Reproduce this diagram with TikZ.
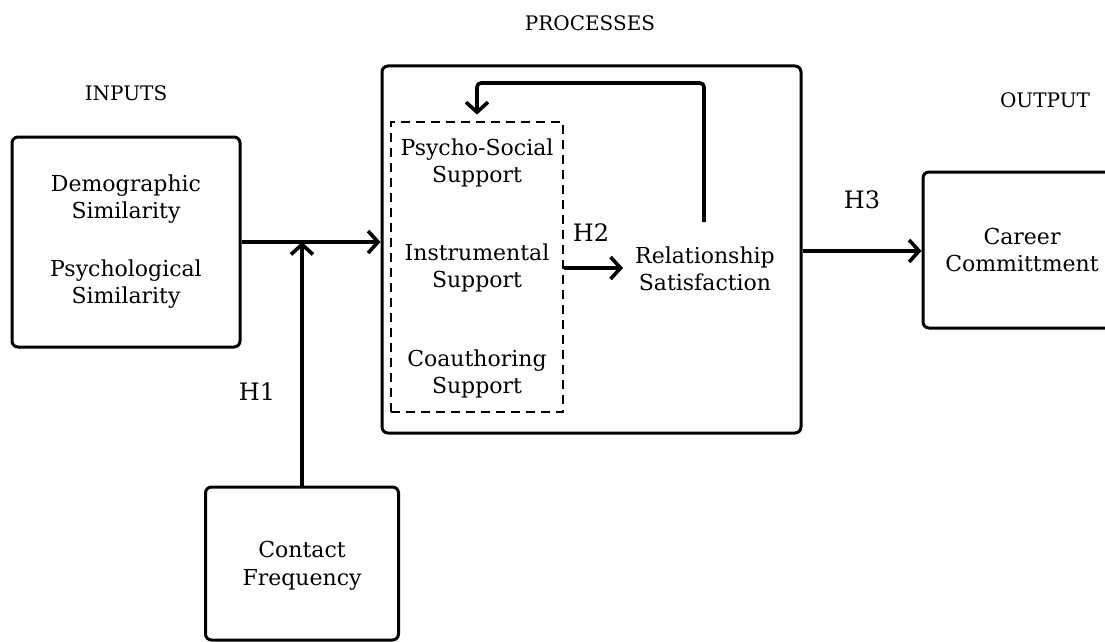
\documentclass[tikz,border=0pt]{standalone}
\usepackage{fontspec}
\setmainfont{DejaVu Serif}
\usetikzlibrary{arrows.meta}
\tikzset{
  box/.style={draw, line width=3pt, rounded corners=6pt, inner sep=0pt},
  dbox/.style={draw, line width=2.8pt, dash pattern=on 9pt off 6pt, inner sep=0pt},
  txt/.style={align=center, inner sep=0pt, font=\fontsize{22}{27.5}\selectfont},
  hyp/.style={inner sep=0pt, font=\fontsize{24}{28}\selectfont},
  ttl/.style={inner sep=0pt, font=\fontsize{20}{22}\selectfont},
  arr/.style={line width=3.6pt, -{Straight Barb[length=10pt, width=22pt, line width=3.6pt]}},
}
\begin{document}
\begin{tikzpicture}[x=1pt,y=-1pt]
\useasboundingbox (0,0) rectangle (1105,642);
% boxes
\node[box, minimum width=228pt, minimum height=210pt] (inputs) at (126,242) {};
\node[box, minimum width=419pt, minimum height=367pt] (process) at (591.5,249.5) {};
\node[dbox, minimum width=172pt, minimum height=290pt] (dashed) at (477,267) {};
\node[box, minimum width=198pt, minimum height=156pt] (output) at (1022,250) {};
\node[box, minimum width=193pt, minimum height=153pt] (contact) at (302,563.5) {};
% titles
\node[ttl] (tin) at (126,93) {INPUTS};
\node[ttl] (tpr) at (590,23) {PROCESSES};
\node[ttl] (tout) at (1045,100) {OUTPUT};
% texts
\node[txt] (demo) at (126,199) {Demographic\\Similarity};
\node[txt] (psych) at (126,284) {Psychological\\Similarity};
\node[txt] (pss) at (477,163) {Psycho-Social\\Support};
\node[txt] (ins) at (477,268) {Instrumental\\Support};
\node[txt] (coa) at (477,374) {Coauthoring\\Support};
\node[txt, inner xsep=12pt] (rel) at (705,269) {Relationship\\Satisfaction};
\node[txt] (car) at (1022,250) {Career\\Committment};
\node[txt] (cf) at (302,566) {Contact\\Frequency};
% hypothesis labels
\node[hyp] (h1) at (257,392) {H1};
\node[hyp] (h2) at (591,233) {H2};
\node[hyp] (h3) at (862,200) {H3};
% connectors
\coordinate (J) at (302,242);
\coordinate (fb) at (704,222);
\draw[arr] (inputs.east |- J) -- (process.west |- J);
\draw[arr] (contact.north) -- (J);
\draw[arr] (dashed.east |- 0,268) -- (rel.west |- 0,268);
\draw[arr, rounded corners=4pt, shorten >=6pt] (fb) -- (704,83) -- (477,83) -- (dashed.north);
\draw[arr] (process.east |- 0,251) -- (output.west |- 0,251);
\end{tikzpicture}
\end{document}
